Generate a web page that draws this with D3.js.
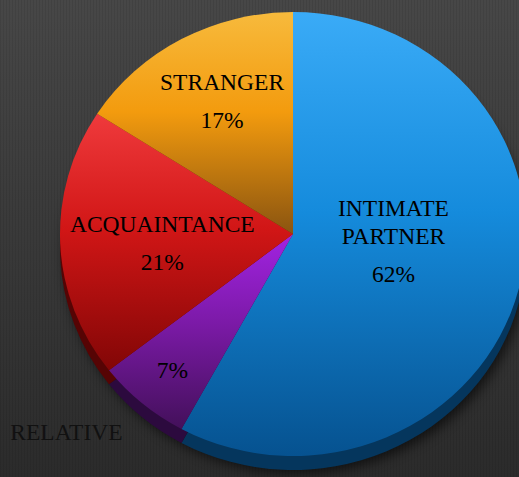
<!DOCTYPE html>
<html>
<head>
<meta charset="utf-8">
<script src="https://cdn.jsdelivr.net/npm/d3@7"></script>
<style>
  body { margin: 0; background: #3a3a3a; }
  svg { display: block; }
</style>
</head>
<body>
<script>
// data
const categories = ["INTIMATE PARTNER", "RELATIVE", "ACQUAINTANCE", "STRANGER"];
const values = [62, 7, 21, 17];
const pctLabels = ["62%", "7%", "21%", "17%"];

// colours: top, middle, bottom of each slice gradient, rim colour
const sliceTop = ["#3aabf7", "#a223e2", "#ef3a3c", "#f7ba3c"];
const sliceMid = ["#158bdc", "#7c1aa8", "#d11616", "#f39b0e"];
const sliceBottom = ["#065290", "#43105a", "#820606", "#8a5410"];
const rimColor = ["#05365d", "#2c0a3e", "#560404", "#583406"];

// label nudges from the label-arc centroid
const labelNudge = [[-35, 7], [-30, 35], [9, 22], [-4, 3]];
const nameOutside = [null, [-106, 62], null, null];

const width = 519, height = 477;
const cx = 293, cy = 234, rx = 233, ry = 222, depth = 14;

let svg = d3.select("body").append("svg")
    .attr("width", width)
    .attr("height", height);

let defs = svg.append("defs");

let bg = defs.append("linearGradient").attr("id", "bg")
    .attr("x1", 0).attr("y1", 0).attr("x2", 0).attr("y2", 1);
bg.append("stop").attr("offset", 0).attr("stop-color", "#474747");
bg.append("stop").attr("offset", 1).attr("stop-color", "#2b2b2b");

let stripes = defs.append("pattern").attr("id", "stripes")
    .attr("width", 3).attr("height", 10)
    .attr("patternUnits", "userSpaceOnUse");
stripes.append("rect").attr("width", 1).attr("height", 10)
    .attr("fill", "#000").attr("opacity", 0.08);

let shadow = defs.append("filter").attr("id", "shadow")
    .attr("x", "-20%").attr("y", "-20%").attr("width", "140%").attr("height", "140%");
shadow.append("feGaussianBlur").attr("stdDeviation", 6);

categories.forEach(function (c, i) {
    let g = defs.append("linearGradient").attr("id", "grad" + i)
        .attr("x1", 0).attr("y1", 0).attr("x2", 0).attr("y2", 1);
    g.append("stop").attr("offset", 0).attr("stop-color", sliceTop[i]);
    g.append("stop").attr("offset", 0.45).attr("stop-color", sliceMid[i]);
    g.append("stop").attr("offset", 1).attr("stop-color", sliceBottom[i]);
});

svg.append("rect").attr("width", width).attr("height", height).attr("fill", "url(#bg)");
svg.append("rect").attr("width", width).attr("height", height).attr("fill", "url(#stripes)");

let pie = d3.pie().sort(null).value(d => d);
let arcs = pie(values);
let arc = d3.arc().innerRadius(0).outerRadius(rx);
let labelArc = d3.arc().innerRadius(rx * 0.6).outerRadius(rx * 0.6);
let sy = ry / rx;

// drop shadow
svg.append("ellipse")
    .attr("cx", cx + 4).attr("cy", cy + depth + 4)
    .attr("rx", rx).attr("ry", ry)
    .attr("fill", "#000").attr("opacity", 0.6)
    .attr("filter", "url(#shadow)");

// rim (the side of the disc)
svg.append("g")
    .attr("transform", "translate(" + cx + "," + (cy + depth) + ") scale(1," + sy + ")")
    .selectAll("path")
    .data(arcs)
    .enter().append("path")
    .attr("d", arc)
    .attr("fill", (d, i) => rimColor[i]);

// top surface
svg.append("g")
    .attr("transform", "translate(" + cx + "," + cy + ") scale(1," + sy + ")")
    .selectAll("path")
    .data(arcs)
    .enter().append("path")
    .attr("d", arc)
    .attr("fill", (d, i) => "url(#grad" + i + ")");

// labels
let labels = svg.append("g")
    .style("font-family", "'Liberation Serif', 'Times New Roman', serif")
    .style("font-size", "23.5px")
    .attr("fill", "#000")
    .attr("text-anchor", "middle");

arcs.forEach(function (d, i) {
    let c = labelArc.centroid(d);
    let x = cx + c[0] + labelNudge[i][0];
    let y = cy + c[1] * sy + labelNudge[i][1] + 8;
    labels.append("text").attr("x", x).attr("y", y).text(pctLabels[i]);

    let words = categories[i].split(" ");
    if (nameOutside[i]) {
        labels.append("text")
            .attr("x", x + nameOutside[i][0]).attr("y", y + nameOutside[i][1])
            .attr("fill", "#111")
            .text(categories[i]);
    } else {
        words.forEach(function (w, k) {
            labels.append("text")
                .attr("x", x)
                .attr("y", y - 38 - (words.length - 1 - k) * 28)
                .text(w);
        });
    }
});
</script>
</body>
</html>
